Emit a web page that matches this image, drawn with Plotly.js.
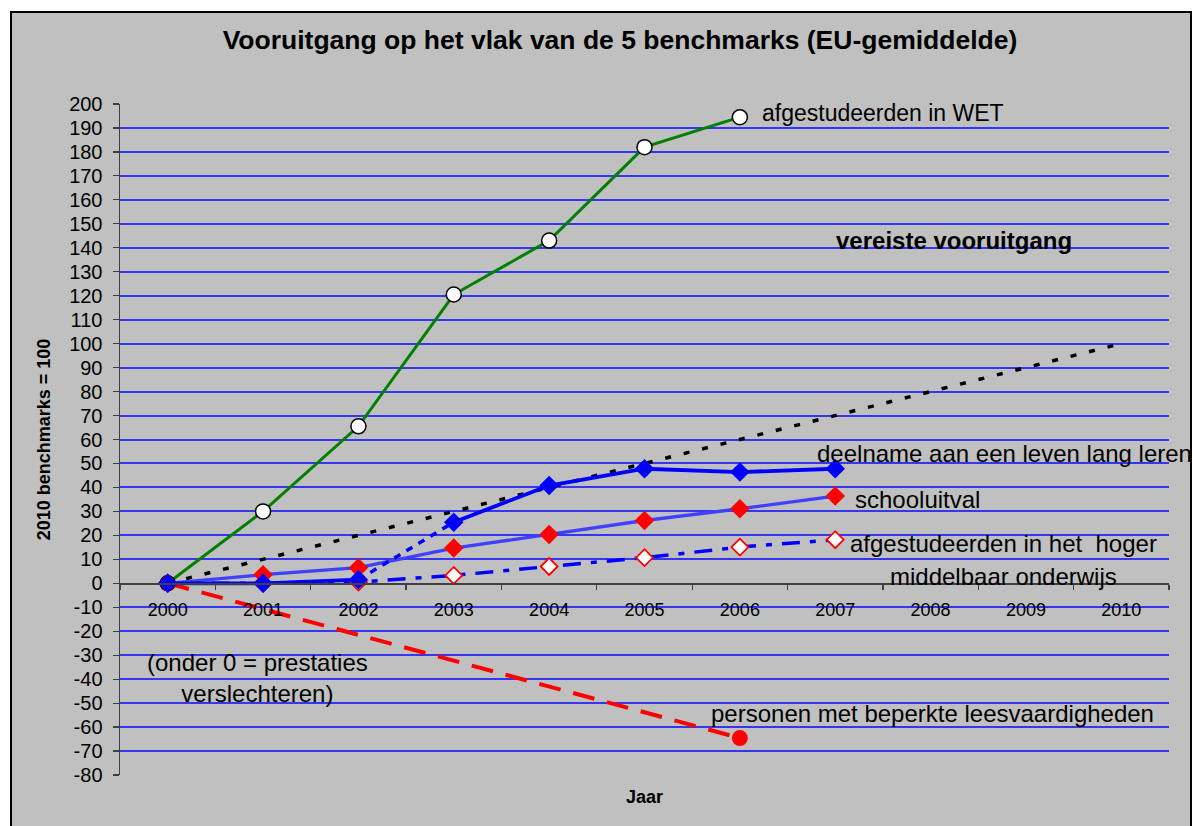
<!DOCTYPE html>
<html>
<head>
<meta charset="utf-8">
<script src="https://cdn.plot.ly/plotly-3.0.1.min.js"></script>
<style>html,body{margin:0;padding:0;background:#fff;}#chart{width:1193px;height:826px;}</style>
</head>
<body>
<div id="chart"></div>
<script>
// ---- data ----
const years = ['2000','2001','2002','2003','2004','2005','2006','2007','2008','2009','2010'];
const wetYears = ['2000','2001','2002','2003','2004','2005','2006'];
const wet = [0, 30, 65.5, 120.5, 143, 182, 194.5];
const seriesYears = ['2000','2001','2002','2003','2004','2005','2006','2007'];
const lifelong = [0, 0, 1.5, 25.5, 40.8, 47.8, 46.4, 47.8];
const schooluitval = [0, 3.6, 6.5, 14.7, 20.4, 26.2, 31.1, 36.4];
const hogerMiddelbaar = [0, 0, 0.5, 3.3, 7.0, 10.7, 15.1, 18.2];
const leesYears = ['2000','2006'];
const lees = [0, -64.6];
const vereiste = [0, 10, 20, 30, 40, 50, 60, 70, 80, 90, 100];
const yTicks = [-80,-70,-60,-50,-40,-30,-20,-10,0,10,20,30,40,50,60,70,80,90,100,110,120,130,140,150,160,170,180,190,200];

const FONT = 'Liberation Sans, Arial, Helvetica, sans-serif';

// plot area geometry (px) for paper conversions
const L = 120, R = 24, T = 104, B = 51, W = 1193, H = 826;
const pw = W - L - R, ph = H - T - B;
const px = x => (x - L) / pw;
const py = y => (H - B - y) / ph;

const traces = [
  { // leesvaardigheden
    x: leesYears, y: lees, type: 'scatter', mode: 'lines+markers',
    line: {color: '#ff0000', width: 4, dash: '22px,13px'},
    marker: {symbol: 'circle', size: 16, color: '#ff0000'}
  },
  { // vereiste vooruitgang
    x: years, y: vereiste, type: 'scatter', mode: 'lines',
    line: {color: '#000000', width: 3.5, dash: '6px,13px'}
  },
  { // WET
    x: wetYears, y: wet, type: 'scatter', mode: 'lines+markers',
    line: {color: '#008000', width: 3},
    marker: {symbol: 'circle', size: 15, color: '#ffffff', line: {color: '#000000', width: 1.5}}
  },
  { // hoger middelbaar
    x: seriesYears, y: hogerMiddelbaar, type: 'scatter', mode: 'lines+markers',
    line: {color: '#0000ff', width: 3.5, dash: '18px,10px,6px,10px'},
    marker: {symbol: 'diamond', size: 13, color: '#ffffff', line: {color: '#ff0000', width: 1.8}}
  },
  { // schooluitval
    x: seriesYears, y: schooluitval, type: 'scatter', mode: 'lines+markers',
    line: {color: '#4040ff', width: 3.3},
    marker: {symbol: 'diamond', size: 15, color: '#ff0000'}
  },
  { // lifelong, first part
    x: seriesYears.slice(0, 3), y: lifelong.slice(0, 3), type: 'scatter', mode: 'lines+markers',
    line: {color: '#0000ff', width: 3.8},
    marker: {symbol: 'diamond', size: 15, color: '#0000ff'}
  },
  { // lifelong, break
    x: seriesYears.slice(2, 4), y: lifelong.slice(2, 4), type: 'scatter', mode: 'lines',
    line: {color: '#0000ff', width: 3.5, dash: '7px,7px'}
  },
  { // lifelong, second part
    x: seriesYears.slice(3), y: lifelong.slice(3), type: 'scatter', mode: 'lines+markers',
    line: {color: '#0000ff', width: 3.8},
    marker: {symbol: 'diamond', size: 15, color: '#0000ff'}
  }
];

const ann = (text, x, y, size, bold, extra) => Object.assign({
  text: text, xref: 'paper', yref: 'paper', x: px(x), y: py(y),
  xanchor: 'left', yanchor: 'middle', showarrow: false,
  font: {family: FONT, size: size, color: '#000', weight: bold ? 'bold' : 'normal'}
}, extra || {});

const layout = {
  width: W, height: H,
  margin: {l: L, r: R, t: T, b: B},
  paper_bgcolor: '#ffffff',
  plot_bgcolor: 'rgba(0,0,0,0)',
  showlegend: false,
  font: {family: FONT, color: '#000'},
  title: {
    text: 'Vooruitgang op het vlak van de 5 benchmarks (EU-gemiddelde)',
    font: {family: FONT, size: 26.5, weight: 'bold', color: '#000'},
    xref: 'container', yref: 'container', x: 620 / W, y: 1 - 40 / H,
    xanchor: 'center', yanchor: 'middle'
  },
  xaxis: {
    type: 'category', categoryorder: 'array', categoryarray: years,
    range: [-0.5, 10.5], tickson: 'boundaries',
    anchor: 'free', position: 80 / 280,
    showline: true, linecolor: '#404040', linewidth: 1.5,
    ticks: 'outside', ticklen: 5, tickcolor: '#404040', tickwidth: 1.2,
    showgrid: false, zeroline: false,
    ticklabelstandoff: 10,
    tickfont: {family: FONT, size: 18, color: '#000'}
  },
  yaxis: {
    range: [-80, 200], tickvals: yTicks, ticktext: yTicks.map(String),
    showline: true, linecolor: '#404040', linewidth: 1.5,
    ticks: 'outside', ticklen: 6, tickcolor: '#404040', tickwidth: 1.2,
    showgrid: true, gridcolor: 'rgba(0,0,255,0.72)', gridwidth: 2,
    zeroline: true, zerolinecolor: '#404040', zerolinewidth: 1.5,
    ticklabelstandoff: 6,
    tickfont: {family: FONT, size: 20, color: '#000'},
    title: {text: '2010 benchmarks = 100', standoff: 14,
            font: {family: FONT, size: 18, weight: 'bold', color: '#000'}}
  },
  shapes: [{
    type: 'rect', xref: 'paper', yref: 'paper', layer: 'below',
    x0: px(11), x1: px(1191), y0: py(840), y1: py(12),
    fillcolor: '#c0c0c0', line: {color: '#000000', width: 2}
  }],
  annotations: [
    ann('afgestudeerden in WET', 760, 113, 23),
    ann('vereiste vooruitgang', 834, 241, 24, true),
    ann('deelname aan een leven lang leren', 815, 453, 24),
    ann('schooluitval', 853, 499, 24),
    ann('afgestudeerden in het\u00a0 hoger', 848, 543, 24),
    ann('middelbaar onderwijs', 888, 576, 24),
    ann('(onder 0 = prestaties<br>verslechteren)', 257, 678, 24, false, {xanchor: 'center', align: 'center'}),
    ann('personen met beperkte leesvaardigheden', 709, 713, 24),
    ann('Jaar', 644, 797, 18, true, {xanchor: 'center'})
  ]
};

Plotly.newPlot('chart', traces, layout, {displayModeBar: false, staticPlot: true});
</script>
</body>
</html>
